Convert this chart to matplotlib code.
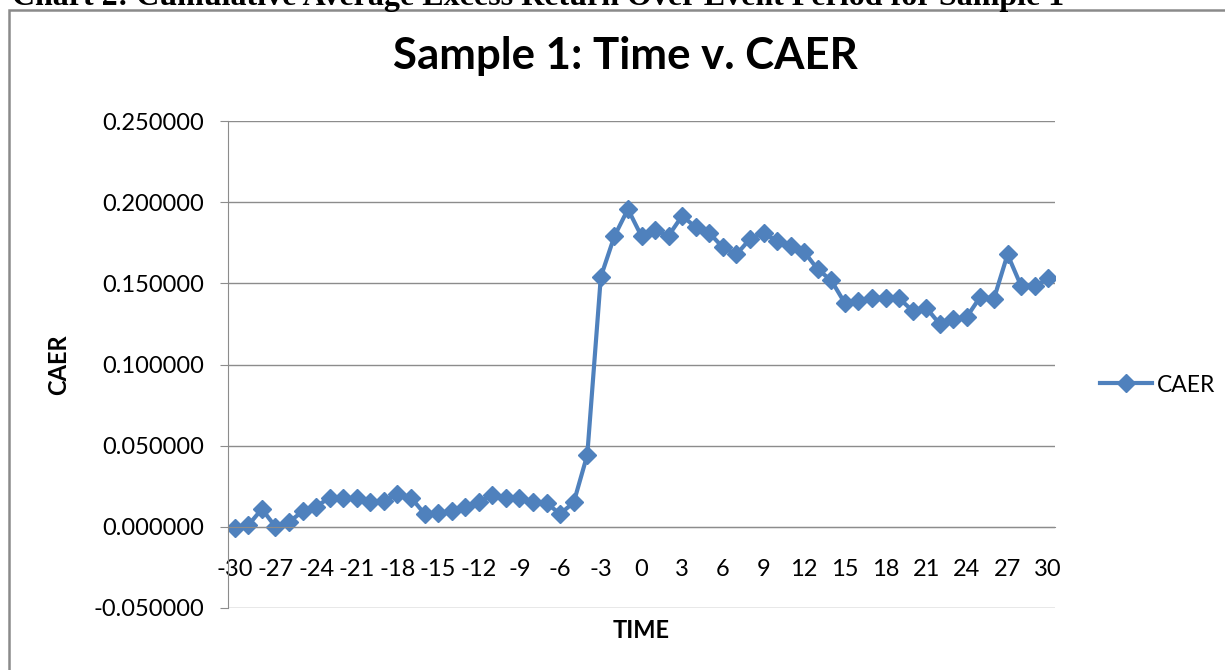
import matplotlib
matplotlib.use("Agg")
import matplotlib.pyplot as plt
from matplotlib.patches import Rectangle
from matplotlib.ticker import FormatStrFormatter
import numpy as np

time = list(range(-30, 31))
caer = [-0.001, 0.001, 0.011, 0.000, 0.003, 0.0095, 0.0125, 0.018, 0.018, 0.0175,
        0.015, 0.016, 0.020, 0.018, 0.008, 0.0085, 0.0095, 0.0125, 0.0155, 0.0195,
        0.0175, 0.0175, 0.0155, 0.0145, 0.008, 0.015, 0.0443, 0.154, 0.179, 0.1957,
        0.179, 0.1827, 0.1794, 0.1916, 0.1845, 0.181, 0.1722, 0.1678, 0.1773, 0.181,
        0.176, 0.1733, 0.1694, 0.1586, 0.1518, 0.1378, 0.139, 0.1412, 0.1412, 0.1408,
        0.133, 0.135, 0.1249, 0.128, 0.1294, 0.1418, 0.1406, 0.1678, 0.1484, 0.1484, 0.153]
xticks = list(range(-30, 31, 3))
yticks = [-0.05, 0.0, 0.05, 0.10, 0.15, 0.20, 0.25]

W, H = 1225, 670
fig = plt.figure(figsize=(W / 100, H / 100), dpi=100)
plt.rcParams['font.family'] = ['Lato', 'DejaVu Sans']

def fx(px):
    return px / W

def fy(py):
    return 1 - py / H

# outer frame
fig.patches.append(Rectangle((fx(9), -0.1), 1.2, fy(10) + 0.1, transform=fig.transFigure,
                             fill=False, edgecolor='#8a8a8a', linewidth=1.8))
# cut-off header
fig.text(fx(12), fy(5), "Chart 2: Cumulative Average Excess Return Over Event Period for Sample 1",
         family='Liberation Serif', fontweight='bold', fontsize=23, ha='left', va='baseline')

ax = fig.add_axes([fx(228), fy(608), fx(1055) - fx(228), fy(121) - fy(608)])
line_color = '#4F81BD'
ax.plot(time, caer, color=line_color, linewidth=3.0, marker='D', markersize=9,
        markeredgecolor=line_color, markerfacecolor=line_color, label='CAER')

ax.set_xlim(-30.5, 30.5)
ax.set_ylim(-0.05, 0.25)
ax.set_yticks(yticks)
ax.yaxis.set_major_formatter(FormatStrFormatter('%.6f'))
ax.set_xticks(xticks)
ax.set_xticklabels([str(t) for t in xticks])
ax.grid(axis='y', color='#8c8c8c', linewidth=1.0)
ax.set_axisbelow(True)
for s in ['top', 'right']:
    ax.spines[s].set_visible(False)
ax.spines['bottom'].set_position(('data', 0))
ax.spines['bottom'].set_color('#8c8c8c')
ax.spines['left'].set_color('#8c8c8c')
ax.tick_params(axis='y', length=6, color='#8c8c8c', pad=11, labelsize=17)
ax.tick_params(axis='x', length=0, pad=23, labelsize=17)

fig.text(fx(625), fy(69), "Sample 1: Time v. CAER", fontsize=31.5, fontweight='bold',
         ha='center', va='baseline')
fig.text(fx(59), fy(365), "CAER", fontsize=17, fontweight='bold', rotation=90,
         ha='center', va='center')
fig.text(fx(641), fy(630), "TIME", fontsize=17, fontweight='bold', ha='center', va='center')

leg = ax.legend(loc='center left', bbox_to_anchor=(fx(1095), fy(385)),
                bbox_transform=fig.transFigure, frameon=False, fontsize=16.5,
                handlelength=2.3, handletextpad=0.2, borderpad=0.2, borderaxespad=0)

fig.savefig('out.png', dpi=100)
